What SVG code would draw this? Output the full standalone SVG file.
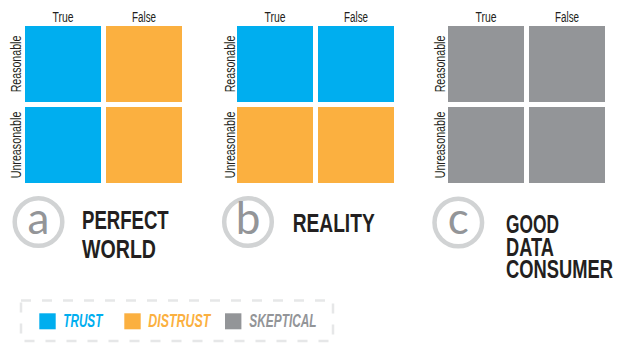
<svg xmlns="http://www.w3.org/2000/svg" width="620" height="345" viewBox="0 0 620 345">
<style>
.t{fill:#00AEEF}.d{fill:#FBB040}.s{fill:#939598}
.ax{font-family:"Liberation Sans",Arial,sans-serif;font-size:14px;fill:#231F20;text-anchor:middle}
.ttl{font-family:"Liberation Sans",Arial,sans-serif;font-size:26px;font-weight:bold;fill:#231F20}
.circ{fill:none;stroke:#D1D3D4;stroke-width:4.5}
.let{font-family:Lato,"Open Sans",sans-serif;font-weight:400;font-size:44px;fill:#939598;text-anchor:middle}
.lg{font-family:"Liberation Sans",Arial,sans-serif;font-size:18.5px;font-weight:bold;font-style:italic}
</style>
<g id="panel-a">
  <rect class="t" x="25" y="26" width="76" height="76"/>
  <rect class="d" x="106" y="26" width="76" height="76"/>
  <rect class="t" x="25" y="107" width="76" height="76"/>
  <rect class="d" x="106" y="107" width="76" height="76"/>
  <text class="ax" x="63" y="21.5" textLength="21" lengthAdjust="spacingAndGlyphs">True</text>
  <text class="ax" x="144" y="21.5" textLength="24" lengthAdjust="spacingAndGlyphs">False</text>
  <text class="ax" transform="translate(20.7,64) rotate(-90)" textLength="56.7" lengthAdjust="spacingAndGlyphs">Reasonable</text>
  <text class="ax" transform="translate(20.7,145) rotate(-90)" textLength="66.7" lengthAdjust="spacingAndGlyphs">Unreasonable</text>
  <circle class="circ" cx="38.5" cy="222" r="23.8"/>
  <text class="let" x="38.5" y="234">a</text>
  <text class="ttl" x="82" y="229.3" textLength="86.7" lengthAdjust="spacingAndGlyphs">PERFECT</text>
  <text class="ttl" x="82" y="258.3" textLength="74" lengthAdjust="spacingAndGlyphs">WORLD</text>
</g>
<g id="panel-b">
  <rect class="t" x="237" y="26" width="76" height="76"/>
  <rect class="t" x="318" y="26" width="76" height="76"/>
  <rect class="d" x="237" y="107" width="76" height="76"/>
  <rect class="d" x="318" y="107" width="76" height="76"/>
  <text class="ax" x="275" y="21.5" textLength="21" lengthAdjust="spacingAndGlyphs">True</text>
  <text class="ax" x="356" y="21.5" textLength="24" lengthAdjust="spacingAndGlyphs">False</text>
  <text class="ax" transform="translate(234.5,64) rotate(-90)" textLength="56.7" lengthAdjust="spacingAndGlyphs">Reasonable</text>
  <text class="ax" transform="translate(234.5,145) rotate(-90)" textLength="66.7" lengthAdjust="spacingAndGlyphs">Unreasonable</text>
  <circle class="circ" cx="248" cy="222" r="23.8"/>
  <text class="let" x="248" y="234">b</text>
  <text class="ttl" x="292.7" y="232.3" textLength="82" lengthAdjust="spacingAndGlyphs">REALITY</text>
</g>
<g id="panel-c">
  <rect class="s" x="448" y="26" width="76" height="76"/>
  <rect class="s" x="529" y="26" width="76" height="76"/>
  <rect class="s" x="448" y="107" width="76" height="76"/>
  <rect class="s" x="529" y="107" width="76" height="76"/>
  <text class="ax" x="486" y="21.5" textLength="21" lengthAdjust="spacingAndGlyphs">True</text>
  <text class="ax" x="567" y="21.5" textLength="24" lengthAdjust="spacingAndGlyphs">False</text>
  <text class="ax" transform="translate(445,64) rotate(-90)" textLength="56.7" lengthAdjust="spacingAndGlyphs">Reasonable</text>
  <text class="ax" transform="translate(445,145) rotate(-90)" textLength="66.7" lengthAdjust="spacingAndGlyphs">Unreasonable</text>
  <circle class="circ" cx="458.3" cy="222.5" r="23.8"/>
  <text class="let" x="458.3" y="234">c</text>
  <text class="ttl" x="506" y="232.7" textLength="53" lengthAdjust="spacingAndGlyphs">GOOD</text>
  <text class="ttl" x="506" y="256" textLength="48" lengthAdjust="spacingAndGlyphs">DATA</text>
  <text class="ttl" transform="translate(506,278.3) scale(0.705,1)" textLength="151.8" lengthAdjust="spacingAndGlyphs">CONSUMER</text>
</g>
<g id="legend">
  <rect x="21" y="300.5" width="312" height="40.5" fill="none" stroke="#E6E7E8" stroke-width="2.5" stroke-dasharray="10 11"/>
  <rect class="t" x="39.3" y="313.3" width="16.4" height="16"/>
  <text class="lg t" x="63.3" y="327.3" textLength="39" lengthAdjust="spacingAndGlyphs">TRUST</text>
  <rect class="d" x="124.3" y="313.3" width="16.4" height="16"/>
  <text class="lg d" x="148.3" y="327.3" textLength="62" lengthAdjust="spacingAndGlyphs">DISTRUST</text>
  <rect class="s" x="225" y="313.3" width="16.4" height="16"/>
  <text class="lg s" x="249.3" y="327.3" textLength="67.3" lengthAdjust="spacingAndGlyphs">SKEPTICAL</text>
</g>
</svg>
